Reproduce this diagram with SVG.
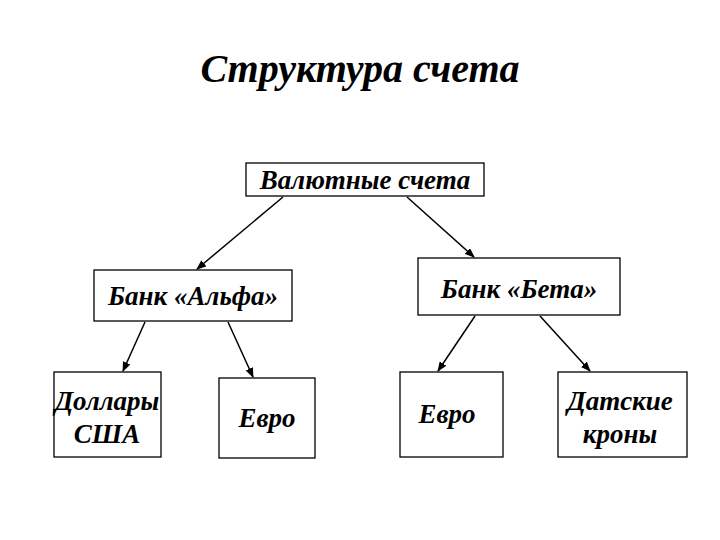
<svg xmlns="http://www.w3.org/2000/svg" width="720" height="540" viewBox="0 0 720 540">
<defs>
<style>
rect{fill:#fff;stroke:#000;stroke-width:1.3}
text{font-family:"Liberation Serif",serif;font-weight:bold;font-style:italic;text-anchor:middle;fill:#000}
.t{font-size:27px}
line{stroke:#000;stroke-width:1.5;marker-end:url(#a)}
</style>
<marker id="a" markerWidth="10" markerHeight="8" refX="9" refY="4" orient="auto" markerUnits="userSpaceOnUse"><path d="M0,0L10,4L0,8Z" fill="#000"/></marker>
</defs>
<rect width="720" height="540" style="stroke:none"/>
<text x="360" y="82" style="font-size:40px">Структура счета</text>
<g id="root"><rect x="246" y="163" width="238" height="33"/><text class="t" x="365" y="189">Валютные счета</text></g>
<g id="alpha"><rect x="94" y="270" width="198" height="51"/><text class="t" x="193" y="305">Банк «Альфа»</text></g>
<g id="beta"><rect x="418" y="258" width="202" height="57"/><text class="t" x="519" y="298">Банк «Бета»</text></g>
<g id="usd"><rect x="54" y="372" width="107" height="85"/><text class="t" x="107" y="410">Доллары</text><text class="t" x="107" y="443">США</text></g>
<g id="eur1"><rect x="219" y="378" width="96" height="80"/><text class="t" x="267" y="427">Евро</text></g>
<g id="eur2"><rect x="400" y="372" width="103" height="85"/><text class="t" x="447" y="423">Евро</text></g>
<g id="dkk"><rect x="558" y="372" width="129" height="85"/><text class="t" x="620" y="410">Датские</text><text class="t" x="620" y="443">кроны</text></g>
<g id="connectors">
<line x1="283" y1="197" x2="197" y2="269"/>
<line x1="407" y1="197" x2="474" y2="257"/>
<line x1="145" y1="322" x2="123" y2="371"/>
<line x1="228" y1="322" x2="253" y2="377"/>
<line x1="475" y1="316" x2="438" y2="371"/>
<line x1="540" y1="316" x2="590" y2="371"/>
</g>
</svg>
